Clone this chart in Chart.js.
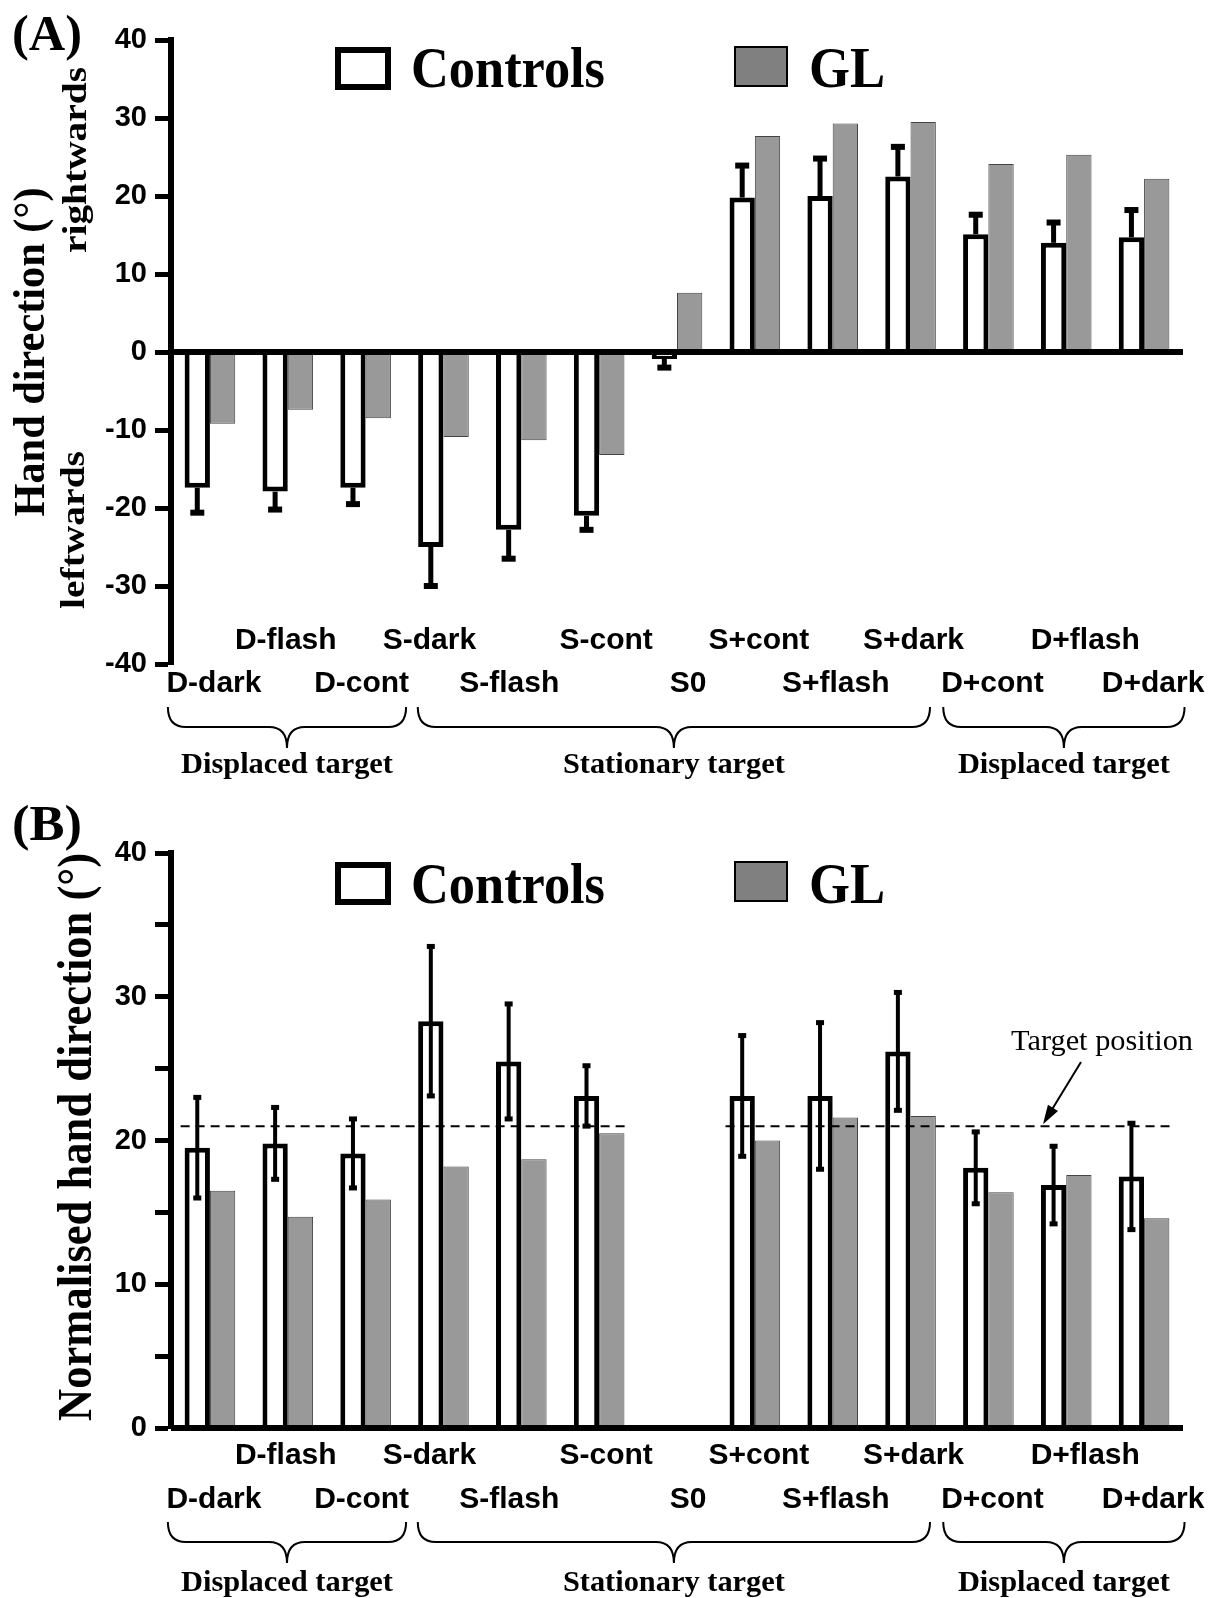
<!DOCTYPE html>
<html>
<head>
<meta charset="utf-8">
<script src="https://cdn.jsdelivr.net/npm/chart.js@4.4.0/dist/chart.umd.min.js"></script>
<style>
  html, body { margin: 0; padding: 0; background: #fff; }
  canvas { position: absolute; left: 0; }
  #chartA { top: 0; }
  #chartB { top: 790px; }
</style>
</head>
<body>
<canvas id="chartA" width="1217" height="790"></canvas>
<canvas id="chartB" width="1217" height="808"></canvas>
<script>
// categories along the x axis
const categories = ['D-dark', 'D-flash', 'D-cont', 'S-dark', 'S-flash', 'S-cont', 'S0',
                    'S+cont', 'S+flash', 'S+dark', 'D+cont', 'D+flash', 'D+dark'];
const groupNames = ['Displaced target', 'Stationary target', 'Displaced target'];
const groupFrom = [-0.54, 2.67, 9.42];   // brace span, in category units
const groupTo = [2.52, 9.25, 12.52];
const labelNudge = [4, -2, -4, -14, -12, 7, 11, 4, 3, 3, 4, 19, 9];   // px, label placement only

// (A) hand direction, deg (negative = leftwards)
const ticksA = [-40, -30, -20, -10, 0, 10, 20, 30, 40];
const controlsA = [-17.4, -17.9, -17.4, -25.0, -22.8, -21.0, -0.9, 19.8, 20.0, 22.5, 15.1, 14.0, 14.7];
const controlsErrA = [3.2, 2.3, 2.1, 5.0, 3.7, 1.8, 1.1, 4.1, 4.8, 3.8, 2.5, 2.6, 3.5];
const glA = [-9.2, -7.4, -8.5, -10.9, -11.3, -13.2, 7.6, 27.7, 29.3, 29.5, 24.1, 25.3, 22.2];

// (B) normalised hand direction, deg
const ticksB = [0, 10, 20, 30, 40];
const controlsB = [19.5, 19.8, 19.1, 28.3, 25.5, 23.1, null, 23.1, 23.1, 26.2, 18.1, 16.9, 17.5];
const controlsErrB = [3.5, 2.5, 2.4, 5.2, 4.0, 2.1, null, 4.2, 5.1, 4.1, 2.5, 2.7, 3.7];
const glB = [16.5, 14.7, 15.9, 18.2, 18.7, 20.5, null, 20.0, 21.6, 21.7, 16.4, 17.6, 14.6];
const targetB = 21.0;
const targetSpans = [[0, 5], [7, 12]];

const sansBold = (px) => 'bold ' + px + 'px "Liberation Sans", Arial, sans-serif';
const serifBold = (px) => 'bold ' + px + 'px "Liberation Serif", "Times New Roman", serif';
const serif = (px) => px + 'px "Liberation Serif", "Times New Roman", serif';

// text squeezed/stretched to a given width
function text(ctx, str, x, y, font, opts) {
  opts = opts || {};
  ctx.save();
  ctx.font = font;
  ctx.fillStyle = '#000';
  ctx.textAlign = opts.align || 'center';
  ctx.textBaseline = opts.baseline || 'alphabetic';
  ctx.translate(x, y);
  if (opts.rotate) ctx.rotate(opts.rotate);
  if (opts.width) ctx.scale(opts.width / ctx.measureText(str).width, 1);
  ctx.fillText(str, 0, 0);
  ctx.restore();
}

function brace(ctx, x1, x2, yTop, yMid, yTip) {
  const xm = (x1 + x2) / 2, r = 18;
  ctx.beginPath();
  ctx.moveTo(x1, yTop);
  ctx.quadraticCurveTo(x1, yMid, x1 + r, yMid);
  ctx.lineTo(xm - r, yMid);
  ctx.quadraticCurveTo(xm, yMid, xm, yTip);
  ctx.quadraticCurveTo(xm, yMid, xm + r, yMid);
  ctx.lineTo(x2 - r, yMid);
  ctx.quadraticCurveTo(x2, yMid, x2, yTop);
  ctx.stroke();
}

function legend(ctx, yBox, yText) {
  ctx.save();
  ctx.fillStyle = '#fff';
  ctx.strokeStyle = '#000';
  ctx.lineWidth = 6;
  ctx.fillRect(338, yBox + 3, 50, 37);
  ctx.strokeRect(338, yBox + 3, 50, 37);
  ctx.fillStyle = '#808080';
  ctx.lineWidth = 2;
  ctx.fillRect(735, yBox, 52, 39);
  ctx.strokeRect(735, yBox, 52, 39);
  ctx.restore();
  text(ctx, 'Controls', 411, yText, serifBold(58), { align: 'left', width: 194 });
  text(ctx, 'GL', 809, yText, serifBold(58), { align: 'left', width: 76 });
}

// panel decorations: axis line at base, error bars, labels, braces
const decor = {
  id: 'decor',
  afterDatasetsDraw(chart, args, o) {
    const ctx = chart.ctx, ys = chart.scales.y, area = chart.chartArea;
    const meta = chart.getDatasetMeta(0), metaGL = chart.getDatasetMeta(1);
    ctx.save();
    if (o.target != null) {
      ctx.strokeStyle = '#000';
      ctx.lineWidth = 2;
      ctx.setLineDash([9, 6]);
      const yt = ys.getPixelForValue(o.target);
      o.targetSpans.forEach(([a, b]) => {
        const x1 = meta.data[a].x - meta.data[a].width / 2 - 4;
        const x2 = metaGL.data[b].x + metaGL.data[b].width / 2 + 4;
        ctx.beginPath(); ctx.moveTo(x1, yt); ctx.lineTo(x2, yt); ctx.stroke();
      });
      ctx.setLineDash([]);
    }
    // base line
    const y0 = ys.getPixelForValue(0);
    ctx.fillStyle = '#000';
    ctx.fillRect(area.left, y0 - 3, area.right - area.left, 6);
    // error bars on controls
    o.values.forEach((v, i) => {
      const e = o.errors[i];
      if (v == null || e == null) return;
      const x = meta.data[i].x;
      let lo, hi;
      if (o.oneSided) { lo = v; hi = v + Math.sign(v) * e; }
      else { lo = v - e; hi = v + e; }
      const p1 = ys.getPixelForValue(lo), p2 = ys.getPixelForValue(hi);
      ctx.fillRect(x - o.stem / 2, Math.min(p1, p2), o.stem, Math.abs(p2 - p1));
      const ends = o.oneSided ? [p2] : [p1, p2];
      ends.forEach(p => ctx.fillRect(x - o.capW / 2, p - o.capH / 2, o.capW, o.capH));
    });
    ctx.restore();
  },
  afterDraw(chart, args, o) {
    const ctx = chart.ctx, xs = chart.scales.x;
    categories.forEach((c, i) => {
      const x = xs.getPixelForValue(i) + labelNudge[i];
      const y = i % 2 === 1 ? o.row1 : o.row2;
      text(ctx, c, x, y, sansBold(30), { baseline: 'middle' });
    });
    ctx.save();
    ctx.strokeStyle = '#000';
    ctx.lineWidth = 2;
    groupNames.forEach((g, k) => {
      const x1 = xs.getPixelForValue(groupFrom[k]), x2 = xs.getPixelForValue(groupTo[k]);
      brace(ctx, x1, x2, o.braceTop, o.braceMid, o.braceTip);
      text(ctx, g, (x1 + x2) / 2, o.groupBase, serifBold(29), { width: k === 1 ? 222 : 212 });
    });
    ctx.restore();
    legend(ctx, o.legendBox, o.legendText);
    text(ctx, o.letter, 12, o.letterBase, serifBold(50), { align: 'left', width: 70 });
    o.titles.forEach(t => text(ctx, t.str, t.x, t.y, serifBold(t.size),
      { rotate: -Math.PI / 2, width: t.len }));
    if (o.target != null) {
      text(ctx, 'Target position', 1011, 260, serif(30), { align: 'left', width: 182 });
      const ys = chart.scales.y;
      const tx = 1043, ty = ys.getPixelForValue(o.target) - 2, fx = 1081, fy = 272;
      const ang = Math.atan2(ty - fy, tx - fx);
      ctx.save();
      ctx.strokeStyle = '#000';
      ctx.fillStyle = '#000';
      ctx.lineWidth = 2;
      ctx.beginPath(); ctx.moveTo(fx, fy);
      ctx.lineTo(tx - 14 * Math.cos(ang), ty - 14 * Math.sin(ang)); ctx.stroke();
      ctx.beginPath();
      ctx.moveTo(tx, ty);
      ctx.lineTo(tx - 20 * Math.cos(ang - 0.3), ty - 20 * Math.sin(ang - 0.3));
      ctx.lineTo(tx - 20 * Math.cos(ang + 0.3), ty - 20 * Math.sin(ang + 0.3));
      ctx.closePath(); ctx.fill();
      ctx.restore();
    }
  }
};

function yAxis(min, max, step, showLabel) {
  return {
    min: min, max: max,
    afterFit: (s) => { s.width = 71; },
    afterBuildTicks: (s) => { s.ticks = []; for (let v = min; v <= max; v += step) s.ticks.push({ value: v }); },
    ticks: {
      color: '#000',
      padding: 8,
      font: { family: '"Liberation Sans", Arial, sans-serif', size: 29, weight: 'bold' },
      callback: (v) => showLabel.includes(v) ? String(v) : ''
    },
    grid: { drawOnChartArea: false, drawTicks: true, tickLength: 16, tickWidth: 5, tickColor: '#000', color: '#000' },
    border: { display: true, color: '#000', width: 6 }
  };
}

function datasets(ctrl, gl) {
  return [
    { label: 'Controls', data: ctrl, backgroundColor: '#fff', borderColor: '#000', borderWidth: 5,
      categoryPercentage: 0.65, barPercentage: 1.0 },
    { label: 'GL', data: gl, backgroundColor: '#999999', borderColor: '#444', borderWidth: 1,
      categoryPercentage: 0.65, barPercentage: 1.0 }
  ];
}

new Chart(document.getElementById('chartA'), {
  type: 'bar',
  data: { labels: categories, datasets: datasets(controlsA, glA) },
  options: {
    responsive: false,
    animation: false,
    layout: { padding: { left: 100, right: 34, top: 40, bottom: 126 } },
    scales: { x: { display: false }, y: yAxis(-40, 40, 10, ticksA) },
    plugins: {
      legend: { display: false },
      tooltip: { enabled: false },
      decor: {
        values: controlsA, errors: controlsErrA, oneSided: true, stem: 5, capW: 14, capH: 6,
        row1: 641, row2: 684, braceTop: 707, braceMid: 727, braceTip: 748, groupBase: 773,
        legendBox: 47, legendText: 87, letter: '(A)', letterBase: 50,
        titles: [
          { str: 'Hand direction (°)', x: 44, y: 352, size: 44, len: 329 },
          { str: 'rightwards', x: 86, y: 160, size: 33, len: 186 },
          { str: 'leftwards', x: 84, y: 530, size: 33, len: 158 }
        ]
      }
    }
  },
  plugins: [decor]
});

new Chart(document.getElementById('chartB'), {
  type: 'bar',
  data: { labels: categories, datasets: datasets(controlsB, glB) },
  options: {
    responsive: false,
    animation: false,
    layout: { padding: { left: 100, right: 34, top: 63, bottom: 170 } },
    scales: { x: { display: false }, y: yAxis(0, 40, 5, ticksB) },
    plugins: {
      legend: { display: false },
      tooltip: { enabled: false },
      decor: {
        values: controlsB, errors: controlsErrB, oneSided: false, stem: 4, capW: 8, capH: 5,
        target: targetB, targetSpans: targetSpans,
        row1: 666, row2: 710, braceTop: 732, braceMid: 752, braceTip: 773, groupBase: 801,
        legendBox: 72, legendText: 113, letter: '(B)', letterBase: 50,
        titles: [
          { str: 'Normalised hand direction (°)', x: 91, y: 347, size: 48, len: 568 }
        ]
      }
    }
  },
  plugins: [decor]
});
</script>
</body>
</html>
